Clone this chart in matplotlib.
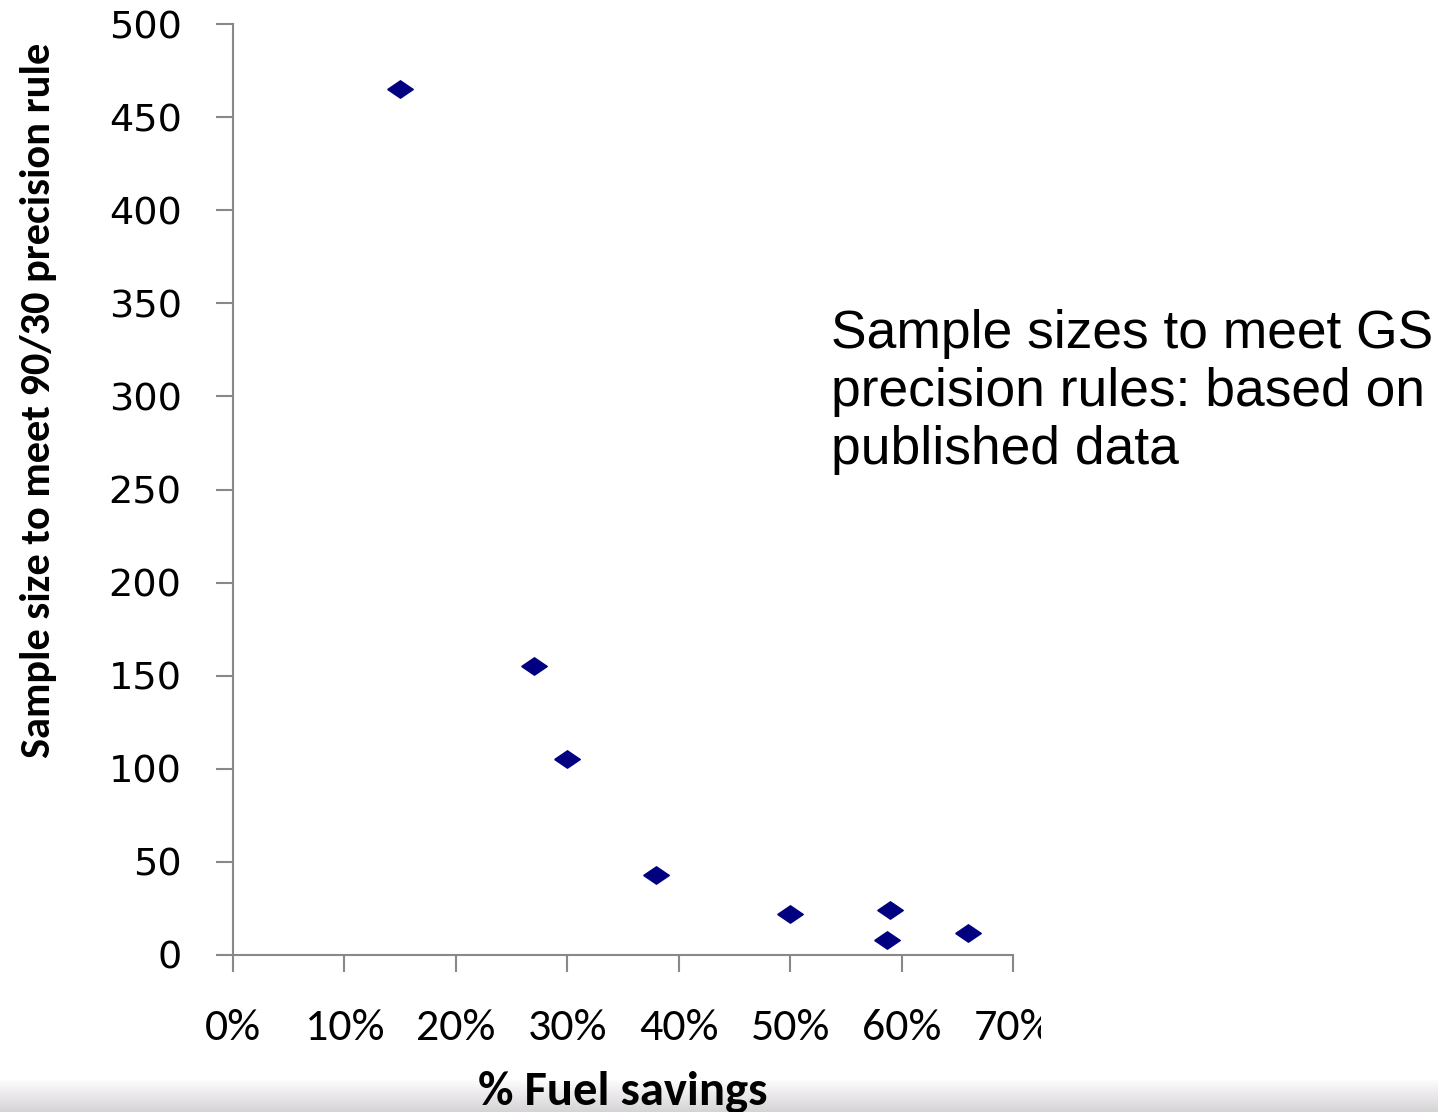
import matplotlib
matplotlib.use("Agg")
import matplotlib.pyplot as plt
import numpy as np
from matplotlib.ticker import FuncFormatter
from matplotlib.transforms import Bbox

fuel_savings = [0.15, 0.27, 0.30, 0.38, 0.50, 0.59, 0.587, 0.66]
sample_size = [465, 155, 105, 43, 22, 24, 8, 12]
x_ticks = [0.0, 0.1, 0.2, 0.3, 0.4, 0.5, 0.6, 0.7]
y_ticks = [0, 50, 100, 150, 200, 250, 300, 350, 400, 450, 500]

narrow = ['Carlito', 'Roboto Condensed', 'Open Sans Condensed', 'DejaVu Sans']

fig = plt.figure(figsize=(14.38, 11.12), dpi=100)
fig.patch.set_facecolor('white')

# bottom gradient band
grad = np.linspace(1, 0, 64).reshape(-1, 1)
bax = fig.add_axes([0, 0, 1, 0.03])
bax.imshow(grad, aspect='auto', cmap=matplotlib.colors.LinearSegmentedColormap.from_list('g', ['#d6d3d6', '#ffffff']), extent=[0, 1, 0, 1])
bax.axis('off')

ax = fig.add_axes([0.162, 0.1412, 0.5425, 0.8372])
ax.set_zorder(2)
ax.patch.set_alpha(0)
diamond = [(-1, 0), (0, 0.68), (1, 0), (0, -0.68), (-1, 0)]
ax.scatter(fuel_savings, sample_size, marker=diamond, s=340, color='#000080', zorder=3, clip_on=False)

ax.set_xlim(0, 0.7)
ax.set_ylim(0, 500)
ax.set_xticks(x_ticks)
ax.set_yticks(y_ticks)
ax.xaxis.set_major_formatter(FuncFormatter(lambda v, p: f"{v*100:.0f}%"))
for s in ['top', 'right']:
    ax.spines[s].set_visible(False)
for s in ['left', 'bottom']:
    ax.spines[s].set_color('#888888')
    ax.spines[s].set_linewidth(1.5)
ax.tick_params(axis='y', direction='out', length=12, width=1.5, color='#888888', labelsize=27.5, pad=25)
ax.tick_params(axis='x', direction='out', length=12, width=1.5, color='#888888', labelsize=33, pad=27)
clip = Bbox.from_extents(0, 0, 1041, 1112)
for lab in ax.get_xticklabels():
    lab.set_family(narrow)
    lab.set_clip_on(True)
    lab.set_clip_box(clip)

ax.set_ylabel('Sample size to meet 90/30 precision rule', fontsize=30.5, fontweight='bold', family=narrow)
ax.yaxis.set_label_coords(-0.226, 0.596)
ax.set_xlabel('% Fuel savings', fontsize=35, fontweight='bold', family=narrow, va='center')
ax.xaxis.set_label_coords(0.5, -0.147)

fig.text(0.578, 0.6475, 'Sample sizes to meet GS\nprecision rules: based on\npublished data', fontsize=38.4,
         family=['Liberation Sans', 'DejaVu Sans'], ha='left', va='center', linespacing=1.2)

fig.savefig('out.png', dpi=100)
